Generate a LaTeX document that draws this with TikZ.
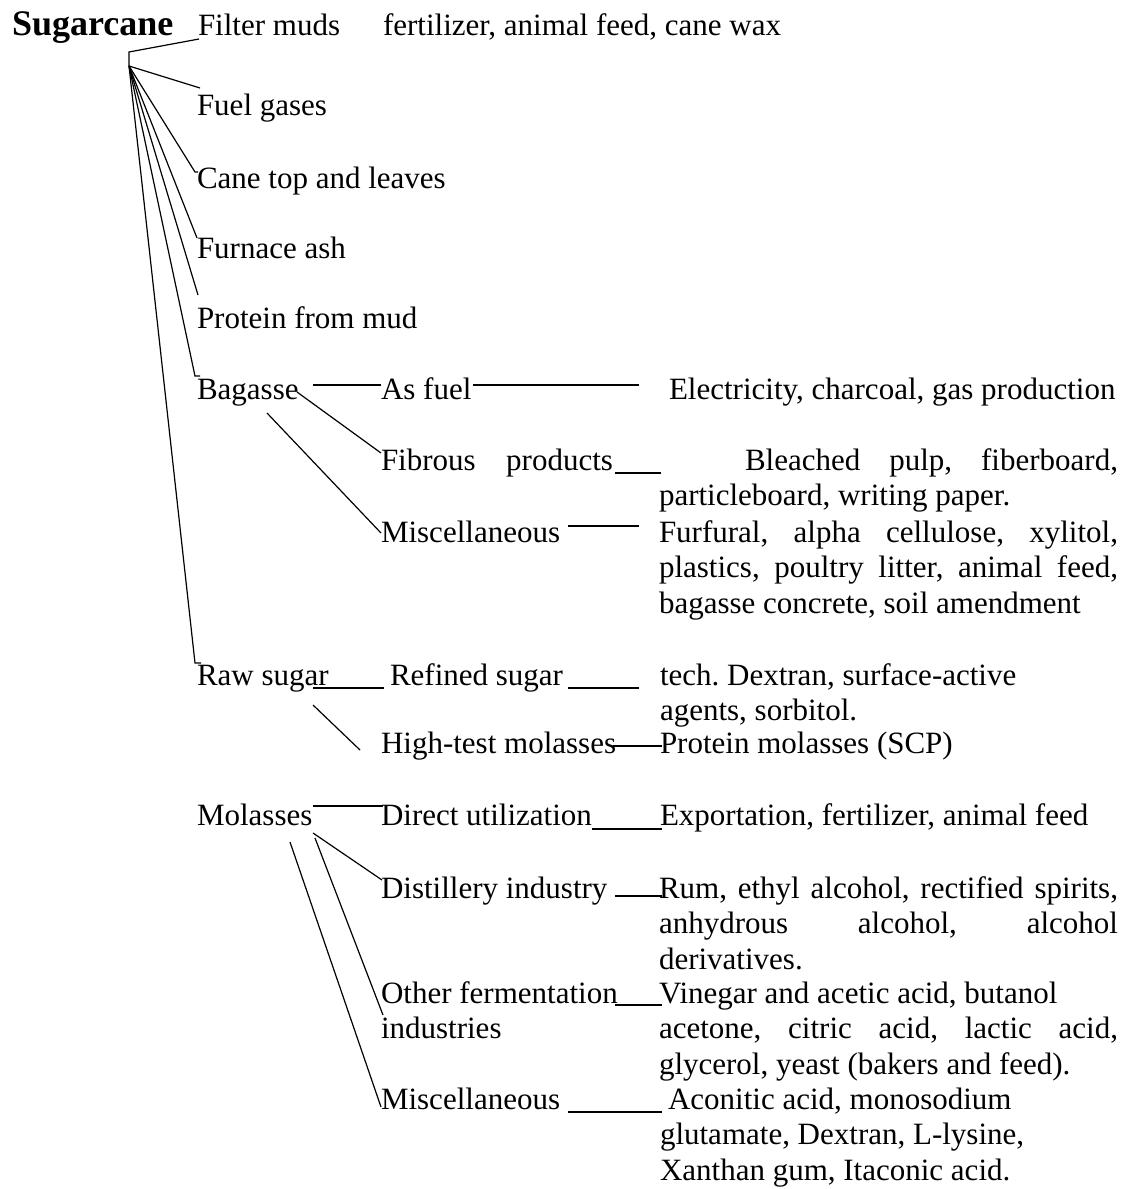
\documentclass[tikz,border=0pt]{standalone}
\usepackage{fontspec}
\setmainfont{Liberation Serif}
\usetikzlibrary{calc,positioning}
\frenchspacing
\newcommand{\jl}[1]{\makebox[229.5pt][s]{\spaceskip=0pt\xspaceskip=0pt\relax #1}}
\tikzset{
  lbl/.style={inner sep=0pt,outer sep=0pt,anchor=base west,font=\fontsize{15.5}{17.8}\selectfont},
  para/.style={lbl,text width=229.5pt,align=flush left},
  link/.style={line width=0.6pt},
}
\begin{document}
\begin{tikzpicture}[x=0.5pt,y=0.5pt,yscale=-1,xscale=1]
\useasboundingbox (0,0) rectangle (1128,1189);

%left column
\node[lbl,font=\fontsize{18}{20.7}\selectfont\bfseries] (cane) at (12,35) {Sugarcane};
\node[lbl] (filter) at (198,35) {Filter muds};
\node[lbl] (wax) at (383,35) {fertilizer, animal feed, cane wax};
\node[lbl] (fuel) at (197,115) {Fuel gases};
\node[lbl] (tops) at (197,188) {Cane top and leaves};
\node[lbl] (ash) at (197,258) {Furnace ash};
\node[lbl] (protein) at (197,328) {Protein from mud};
\node[lbl] (bagasse) at (197,399) {Bagasse};
\node[lbl] (rawsugar) at (197,685) {Raw sugar};
\node[lbl] (molasses) at (197,825) {Molasses};

%middle column
\node[lbl] (asfuel) at (381,399) {As fuel};
\node[lbl] (fibrous) at (381,470) {\makebox[116pt][s]{Fibrous products}};
\node[lbl] (bagmisc) at (381,542) {Miscellaneous};
\node[lbl] (refined) at (390,685) {Refined sugar};
\node[lbl] (hightest) at (381,753) {High-test molasses};
\node[lbl] (direct) at (381,825) {Direct utilization};
\node[lbl] (distill) at (381,898) {Distillery industry};
\node[para,text width=120pt] (otherferm) at (381,1003) {Other fermentation\\industries};
\node[lbl] (molmisc) at (381,1109) {Miscellaneous};

%products
\node[lbl] (elec) at (669,399) {Electricity, charcoal, gas production};
\node[para] (bleach) at (659,470) {\jl{\hspace*{43pt}Bleached pulp, fiberboard,}\\particleboard, writing paper.};
\node[para] (furfural) at (659,542) {\jl{Furfural, alpha cellulose, xylitol,}\\\jl{plastics, poultry litter, animal feed,}\\bagasse concrete, soil amendment};
\node[para] (tech) at (660,685) {tech. Dextran, surface-active\\agents, sorbitol.};
\node[lbl] (protmol) at (660,753) {Protein molasses (SCP)};
\node[lbl] (export) at (660,825) {Exportation, fertilizer, animal feed};
\node[para] (rum) at (659,898) {\jl{Rum, ethyl alcohol, rectified spirits,}\\\jl{anhydrous alcohol, alcohol}\\derivatives.};
\node[para] (vinegar) at (659,1003) {Vinegar and acetic acid, butanol\\\jl{acetone, citric acid, lactic acid,}\\glycerol, yeast (bakers and feed).};
\node[para] (aconitic) at (660,1109) {\hspace*{4pt}Aconitic acid, monosodium\\glutamate, Dextran, L-lysine,\\Xanthan gum, Itaconic acid.};

%Straight Lines: branches of Sugarcane
\coordinate (root) at (129,52);
\coordinate (hub) at (129,66);
\draw[link] ($(filter.base west)+(1,4)$) -- (root) -- (hub);
\draw[link] (hub) -- ($(fuel.base west)+(3,-27)$);
\draw[link] (hub) -- ($(tops.base west)+(-2,-16)$) -- ++(3,0);
\draw[link] (hub) -- ($(ash.base west)+(0,-20)$);
\draw[link] (hub) -- ($(protein.base west)+(1,-33)$);
\draw[link] (hub) -- ($(bagasse.base west)+(-2,-23)$) -- ++(5,0);
\draw[link] (hub) -- ($(rawsugar.base west)+(-2,-22)$) -- ++(6,0);

%Straight Lines: bagasse
\draw[link] ($(bagasse.base west)+(116,-14)$) -- ($(asfuel.base west)+(0,-14)$);
\draw[link] ($(asfuel.base west)+(92,-14)$) -- ($(elec.base west)+(-30,-14)$);
\draw[link] ($(bagasse.base west)+(100,-7)$) -- ($(fibrous.base west)+(0,-17)$);
\draw[link] ($(bagasse.base west)+(70,14)$) -- ($(bagmisc.base west)+(0,-9)$);
\draw[link] ($(fibrous.base west)+(234,3)$) -- ($(bleach.base west)+(2,3)$);
\draw[link] ($(bagmisc.base west)+(187,-16)$) -- ($(furfural.base west)+(-20,-16)$);

%Straight Lines: raw sugar
\draw[link] ($(rawsugar.base west)+(116,3)$) -- ($(refined.base west)+(-6,3)$);
\draw[link] ($(refined.base west)+(178,3)$) -- ($(tech.base west)+(-21,3)$);
\draw[link] ($(rawsugar.base west)+(116,20)$) -- ($(hightest.base west)+(-21,-3)$);
\draw[link] ($(hightest.base west)+(232,-7)$) -- ($(protmol.base west)+(2,-7)$);

%Straight Lines: molasses
\draw[link] ($(molasses.base west)+(116,-19)$) -- ($(direct.base west)+(2,-19)$);
\draw[link] ($(direct.base west)+(211,4)$) -- ($(export.base west)+(2,4)$);
\draw[link] ($(molasses.base west)+(116,8)$) -- ($(distill.base west)+(1,-18)$);
\draw[link] ($(molasses.base west)+(118,13)$) -- ($(otherferm.base west)+(2,12)$);
\draw[link] ($(molasses.base west)+(93,17)$) -- ($(molmisc.base west)+(0,-2)$);
\draw[link] ($(distill.base west)+(234,-2)$) -- ($(rum.base west)+(3,-2)$);
\draw[link] ($(otherferm.base west)+(234,2)$) -- ($(vinegar.base west)+(3,2)$);
\draw[link] ($(molmisc.base west)+(187,3)$) -- ($(aconitic.base west)+(2,3)$);
\end{tikzpicture}
\end{document}
